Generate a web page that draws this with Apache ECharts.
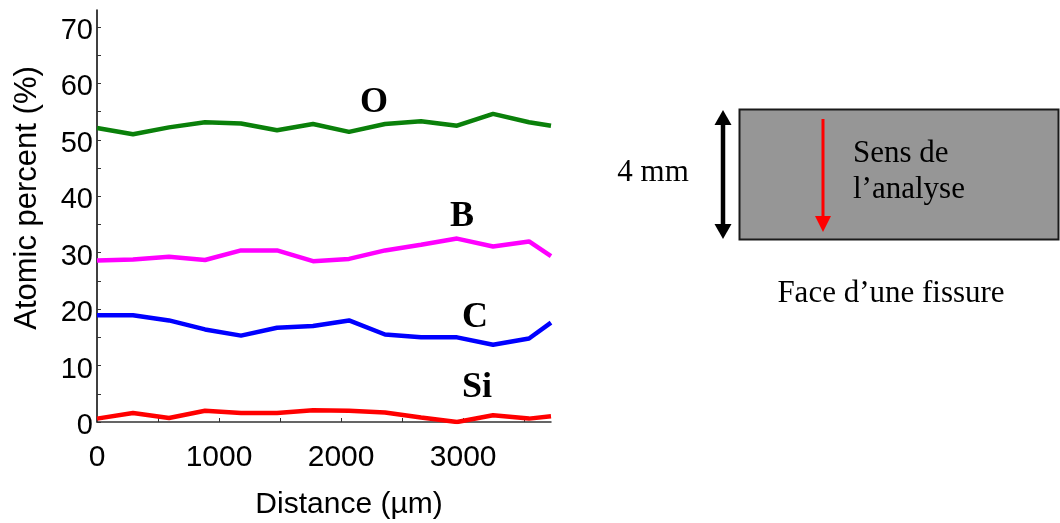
<!DOCTYPE html>
<html>
<head>
<meta charset="utf-8">
<script src="https://cdn.jsdelivr.net/npm/echarts@6/dist/echarts.min.js"></script>
<style>
html,body{margin:0;padding:0;background:#fff;}
#chart{width:1060px;height:523px;}
</style>
</head>
<body>
<div id="chart"></div>
<script>
// Distance (µm) of each measurement point
const distance = [0, 295, 590, 885, 1180, 1475, 1770, 2065, 2360, 2655, 2950, 3245, 3540, 3720];
// Atomic percent (%) per element
const oxygen  = [52.1, 51.0, 52.2, 53.1, 52.9, 51.7, 52.8, 51.4, 52.8, 53.3, 52.5, 54.6, 53.1, 52.5];
const boron   = [28.6, 28.8, 29.3, 28.7, 30.4, 30.4, 28.5, 28.9, 30.4, 31.4, 32.5, 31.1, 32.0, 29.4];
const carbon  = [18.9, 18.9, 18.0, 16.4, 15.3, 16.7, 17.0, 18.0, 15.5, 15.0, 15.0, 13.7, 14.8, 17.6];
const silicon = [0.6, 1.6, 0.7, 2.0, 1.6, 1.6, 2.1, 2.0, 1.7, 0.8, 0.0, 1.2, 0.6, 1.0];
const seriesNames = ['O', 'B', 'C', 'Si'];
const seriesColors = ['#0a800a', '#ff00ff', '#0000ff', '#ff0000'];
// Tick values
const xLabelTicks = [0, 1000, 2000, 3000];
const xMinorTicks = [0, 500, 1000, 1500, 2000, 2500, 3000, 3500];
const yLabelTicks = [0, 10, 20, 30, 40, 50, 60, 70];
const yMinorTicks = [0, 5, 10, 15, 20, 25, 30, 35, 40, 45, 50, 55, 60, 65, 70];
// Diagram texts
const diagramTexts = {
  height: '4 mm',
  dir1: 'Sens de',
  dir2: 'l\u2019analyse',
  caption: 'Face d\u2019une fissure'
};

const allValues = [oxygen, boron, carbon, silicon];
const pairs = arr => distance.map((d, i) => [d, arr[i]]);

const chart = echarts.init(document.getElementById('chart'), null, {renderer: 'canvas'});
const serif = '"Liberation Serif", "Times New Roman", serif';
const sans = '"Liberation Sans", Arial, sans-serif';

chart.setOption({
  animation: false,
  backgroundColor: '#ffffff',
  grid: {left: 97, top: 10, right: 509, bottom: 101, containLabel: false, outerBoundsMode: 'none'},
  xAxis: {
    type: 'value', min: 0, max: 3720,
    name: 'Distance (\u00b5m)', nameLocation: 'middle', nameGap: 68,
    nameTextStyle: {fontFamily: sans, fontSize: 30, color: '#000', padding: [0, 0, 0, 50]},
    axisLine: {show: true, onZero: false, lineStyle: {color: '#333', width: 1.5}},
    axisTick: {show: true, inside: true, length: 4, customValues: xMinorTicks, lineStyle: {color: '#333'}},
    axisLabel: {customValues: xLabelTicks, formatter: v => String(v), fontFamily: sans, fontSize: 30, color: '#000', margin: 21},
    splitLine: {show: false}
  },
  yAxis: {
    type: 'value', min: 0, max: 73,
    name: 'Atomic percent (%)', nameLocation: 'middle', nameGap: 54,
    nameTextStyle: {fontFamily: sans, fontSize: 31, color: '#000', padding: [0, 0, 0, 36]},
    axisLine: {show: true, lineStyle: {color: '#000', width: 1.5}},
    axisTick: {show: true, inside: true, length: 4, customValues: yMinorTicks, lineStyle: {color: '#333'}},
    axisLabel: {customValues: yLabelTicks, formatter: v => String(v), fontFamily: sans, fontSize: 29, color: '#000', margin: 4, verticalAlign: 'top', lineHeight: 8},
    splitLine: {show: false}
  },
  series: allValues.map((arr, k) => ({
    name: seriesNames[k],
    type: 'line',
    data: pairs(arr),
    showSymbol: false,
    symbol: 'none',
    clip: true,
    lineStyle: {color: seriesColors[k], width: 4.5},
    itemStyle: {color: seriesColors[k]}
  })),
  graphic: [
    // series labels
    {type: 'text', x: 374, y: 103, style: {text: 'O', font: 'bold 36px ' + serif, fill: '#000', align: 'center', verticalAlign: 'middle'}},
    {type: 'text', x: 462, y: 217, style: {text: 'B', font: 'bold 36px ' + serif, fill: '#000', align: 'center', verticalAlign: 'middle'}},
    {type: 'text', x: 475, y: 318, style: {text: 'C', font: 'bold 36px ' + serif, fill: '#000', align: 'center', verticalAlign: 'middle'}},
    {type: 'text', x: 477, y: 388, style: {text: 'Si', font: 'bold 36px ' + serif, fill: '#000', align: 'center', verticalAlign: 'middle'}},
    // diagram: grey specimen
    {type: 'rect', shape: {x: 739.5, y: 109.5, width: 319, height: 130}, style: {fill: '#969696', stroke: '#1a1a1a', lineWidth: 2}},
    // black double arrow
    {type: 'line', shape: {x1: 723, y1: 122, x2: 723, y2: 226}, style: {stroke: '#000', lineWidth: 4.5}},
    {type: 'polygon', shape: {points: [[714.5, 125], [731.5, 125], [723, 110]]}, style: {fill: '#000'}},
    {type: 'polygon', shape: {points: [[714.5, 224], [731.5, 224], [723, 239]]}, style: {fill: '#000'}},
    // red arrow
    {type: 'line', shape: {x1: 823, y1: 119, x2: 823, y2: 219}, style: {stroke: '#ff0000', lineWidth: 3}},
    {type: 'polygon', shape: {points: [[815, 216], [831, 216], [823, 232]]}, style: {fill: '#ff0000'}},
    // texts
    {type: 'text', x: 653, y: 173, style: {text: diagramTexts.height, font: '31px ' + serif, fill: '#000', align: 'center', verticalAlign: 'middle'}},
    {type: 'text', x: 853, y: 154, style: {text: diagramTexts.dir1, font: '31px ' + serif, fill: '#000', align: 'left', verticalAlign: 'middle'}},
    {type: 'text', x: 853, y: 190, style: {text: diagramTexts.dir2, font: '31px ' + serif, fill: '#000', align: 'left', verticalAlign: 'middle'}},
    {type: 'text', x: 891, y: 294, style: {text: diagramTexts.caption, font: '31px ' + serif, fill: '#000', align: 'center', verticalAlign: 'middle'}}
  ]
});
</script>
</body>
</html>
